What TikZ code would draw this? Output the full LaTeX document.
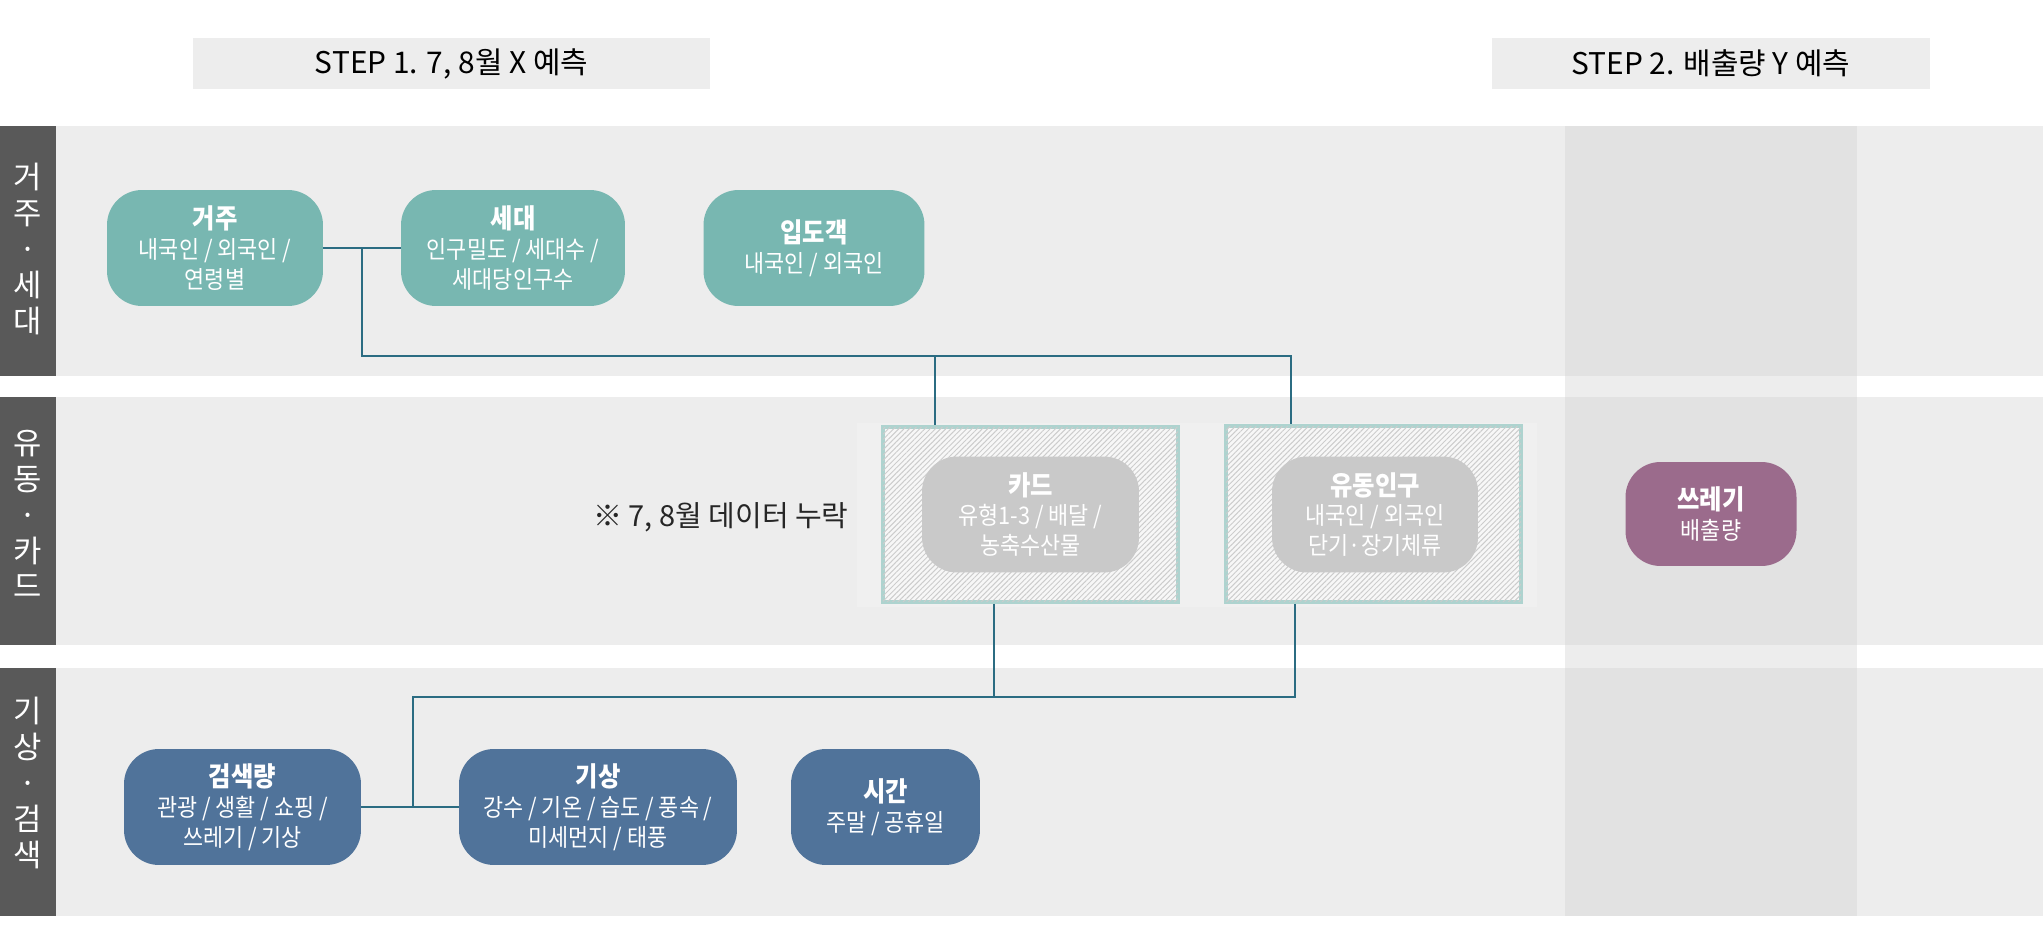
\documentclass[tikz,border=0pt]{standalone}
\usepackage{fontspec}
\setmainfont{Noto Sans CJK KR}
\newfontfamily\narrowfont[FakeStretch=0.9]{Noto Sans CJK KR}
\usetikzlibrary{patterns.meta}

\definecolor{bandgray}{HTML}{EDEDED}
\definecolor{colgray}{HTML}{E2E2E2}
\definecolor{labelgray}{HTML}{595959}
\definecolor{tealnode}{HTML}{78B7B1}
\definecolor{bluenode}{HTML}{50739A}
\definecolor{plumnode}{HTML}{9B6B8C}
\definecolor{missnode}{HTML}{C9C9C9}
\definecolor{missline}{HTML}{AED3CF}
\definecolor{linkcol}{HTML}{2B6C82}

\newcommand{\nodetitle}[1]{{\fontsize{15.4}{17}\selectfont\bfseries #1}}

\begin{document}
\begin{tikzpicture}[x=0.02cm, y=-0.02cm,
    varbox/.style={rounded corners=0.7cm, text=white, align=center, inner sep=0pt,
      minimum height=2.32cm, font=\narrowfont\fontsize{13.8}{17}\selectfont},
    teal/.style={varbox, fill=tealnode},
    blue/.style={varbox, fill=bluenode},
    miss/.style={varbox, fill=missnode},
    hatchbox/.style={draw=missline, line width=2.1pt, fill=white!55!bandgray,
      postaction={pattern={Lines[angle=45, distance=2.1pt, line width=0.55pt]}, pattern color=black!20}},
    rowlabel/.style={text=white, align=center, font=\fontsize{17.5}{20.4}\selectfont},
    steptitle/.style={fill=bandgray, minimum height=1.02cm, font=\fontsize{17}{20}\selectfont},
    link/.style={draw=linkcol, line width=0.7pt}]
   \useasboundingbox (0,0) rectangle (2043,952);
   % row bands
   \fill[bandgray] (56,126) rectangle (2043,376);
   \fill[bandgray] (56,397) rectangle (2043,645);
   \fill[bandgray] (56,668) rectangle (2043,916);
   \fill[labelgray] (0,126) rectangle (56,376);
   \fill[labelgray] (0,397) rectangle (56,645);
   \fill[labelgray] (0,668) rectangle (56,916);
   % step 2 column
   \fill[bandgray] (1565,126) rectangle (1857,916);
   \fill[colgray] (1565,126) rectangle (1857,376);
   \fill[colgray] (1565,397) rectangle (1857,645);
   \fill[colgray] (1565,668) rectangle (1857,916);
   \fill[white!18!bandgray] (857,423) rectangle (1537,607);

   \node[rowlabel] (row1) at (28,249) {거\\주\\·\\세\\대};
   \node[rowlabel] (row2) at (28,514) {유\\동\\·\\카\\드};
   \node[rowlabel] (row3) at (28,783) {기\\상\\·\\검\\색};

   \node[steptitle, minimum width=10.34cm] (step1) at (451.5,64) {STEP 1. 7, 8월 X 예측};
   \node[steptitle, minimum width=8.76cm] (step2) at (1711,63.5) {STEP 2. 배출량 Y 예측};

   \node[teal, minimum width=4.32cm] (geoju) at (215,248) {\nodetitle{거주}\\내국인 / 외국인 /\\연령별};
   \node[teal, minimum width=4.48cm] (sedae) at (513,248) {\nodetitle{세대}\\인구밀도 / 세대수 /\\세대당인구수};
   \node[teal, minimum width=4.42cm] (ipdo) at (814,248) {\nodetitle{입도객}\\내국인 / 외국인};

   \node[hatchbox, minimum width=5.9cm, minimum height=3.5cm] (cardbox) at (1030.5,514.5) {};
   \node[hatchbox, minimum width=5.9cm, minimum height=3.52cm] (flowbox) at (1373.5,514) {};
   \node[miss, minimum width=4.34cm] (card) at (1030.5,514.5) {\nodetitle{카드}\\유형1-3 / 배달 /\\농축수산물};
   \node[miss, minimum width=4.12cm] (flow) at (1375,514.5) {\nodetitle{유동인구}\\내국인 / 외국인\\단기·장기체류};
   \node[font=\fontsize{16.5}{18}\selectfont, text=black!85] (note) at (721,517) {※ 7, 8월 데이터 누락};

   \node[varbox, fill=plumnode, minimum width=3.42cm, minimum height=2.08cm] (trash) at (1711,514) {\nodetitle{쓰레기}\\배출량};

   \node[blue, minimum width=4.74cm] (search) at (242.5,807) {\nodetitle{검색량}\\관광 / 생활 / 쇼핑 /\\쓰레기 / 기상};
   \node[blue, minimum width=5.56cm] (weather) at (598,807) {\nodetitle{기상}\\강수 / 기온 / 습도 / 풍속 /\\미세먼지 / 태풍};
   \node[blue, minimum width=3.78cm] (time) at (885.5,807) {\nodetitle{시간}\\주말 / 공휴일};

   % connectors
   \coordinate (top1) at (362,248);
   \coordinate (top2) at (935,356);
   \coordinate (top3) at (1291,356);
   \draw[link] (geoju.east) -- (sedae.west);
   \draw[link] (top1) |- (top3) -- (flowbox.north -| top3);
   \draw[link] (top2) -- (cardbox.north -| top2);
   \coordinate (bot1) at (994,697);
   \coordinate (bot2) at (1295,697);
   \coordinate (bot3) at (413,807);
   \draw[link] (search.east) -- (weather.west);
   \draw[link] (cardbox.south -| bot1) -- (bot1);
   \draw[link] (flowbox.south -| bot2) -- (bot2) -| (bot3);
\end{tikzpicture}
\end{document}
